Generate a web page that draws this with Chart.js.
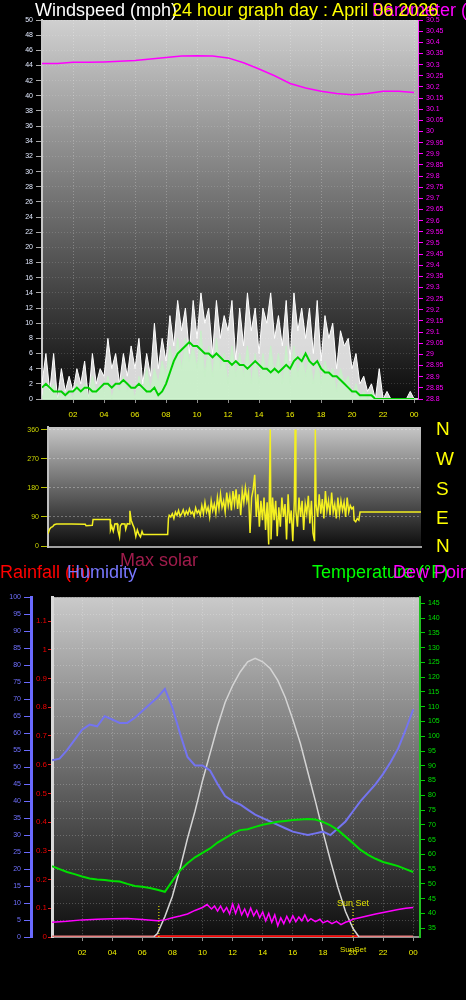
<!DOCTYPE html>
<html>
<head>
<meta charset="utf-8">
<script src="https://cdn.jsdelivr.net/npm/chart.js@4.4.1/dist/chart.umd.min.js"></script>
<style>
html, body { margin: 0; padding: 0; background: #000; }
body { width: 466px; height: 1000px; position: relative; overflow: hidden; font-family: "Liberation Sans", Arial, sans-serif; }
.box { position: absolute; left: 0; width: 466px; }
.lbl { position: absolute; white-space: nowrap; font-size: 18px; line-height: 18px; }
.dir { position: absolute; left: 436px; font-size: 19px; line-height: 19px; color: #ffff00; }
</style>
</head>
<body>
<div class="box" style="top:0;height:425px"><canvas id="windChart"></canvas></div>
<div class="box" style="top:420px;height:135px"><canvas id="dirChart"></canvas></div>
<div class="box" style="top:590px;height:370px"><canvas id="climateChart"></canvas></div>

<span class="lbl" style="left:35px;top:1px;color:#ffffff">Windspeed (mph)</span>
<span class="lbl" style="left:372px;top:1px;color:#ff00ff">Barometer (inHg)</span>
<span class="lbl" style="left:172px;top:1px;color:#ffff00">24 hour graph day : April 06 2026</span>

<span class="dir" style="top:419px">N</span>
<span class="dir" style="top:449px">W</span>
<span class="dir" style="top:479px">S</span>
<span class="dir" style="top:508px">E</span>
<span class="dir" style="top:536px">N</span>

<span class="lbl" style="left:120px;top:551px;color:#a01c4c">Max solar</span>
<span class="lbl" style="left:0px;top:563px;color:#ff0000">Rainfall (in)</span>
<span class="lbl" style="left:67px;top:563px;color:#7878ff">Humidity</span>
<span class="lbl" style="left:312px;top:563px;color:#00ff00">Temperature (°F)</span>
<span class="lbl" style="left:393px;top:563px;color:#ff00ff">Dew Point</span>

<script>
// axis ticks
const hourTicks = [2, 4, 6, 8, 10, 12, 14, 16, 18, 20, 22, 24];
const hourLabels = ['02', '04', '06', '08', '10', '12', '14', '16', '18', '20', '22', '00'];
const windTicks = [0, 2, 4, 6, 8, 10, 12, 14, 16, 18, 20, 22, 24, 26, 28, 30, 32, 34, 36, 38, 40, 42, 44, 46, 48, 50];
const baroTicks = [28.8, 28.85, 28.9, 28.95, 29, 29.05, 29.1, 29.15, 29.2, 29.25, 29.3, 29.35, 29.4, 29.45, 29.5, 29.55,
    29.6, 29.65, 29.7, 29.75, 29.8, 29.85, 29.9, 29.95, 30, 30.05, 30.1, 30.15, 30.2, 30.25, 30.3, 30.35, 30.4, 30.45, 30.5];
const dirTicks = [0, 90, 180, 270, 360];
const humTicks = [0, 5, 10, 15, 20, 25, 30, 35, 40, 45, 50, 55, 60, 65, 70, 75, 80, 85, 90, 95, 100];
const rainTicks = [0, 0.1, 0.2, 0.3, 0.4, 0.5, 0.6, 0.7, 0.8, 0.9, 1, 1.1];
const tempTicks = [35, 40, 45, 50, 55, 60, 65, 70, 75, 80, 85, 90, 95, 100, 105, 110, 115, 120, 125, 130, 135, 140, 145];

// wind, mph, every 15 minutes from 00:00 to 24:00
const windGust = [
    2, 6, 1, 6,   0, 4, 1, 3,   1, 4, 2, 5,   0, 6, 2, 4,   3, 8, 4, 6,   2, 6, 3, 7,
    4, 8, 2, 6,   3, 10, 4, 8,  5, 11, 7, 13, 9, 12, 6, 13, 8, 14, 10, 12, 6, 13, 8, 11,
    9, 13, 5, 12, 7, 14, 9, 12, 6, 12, 10, 14, 8, 11, 7, 13, 5, 14, 9, 12, 8, 12, 6, 13,
    5, 11, 8, 10, 4, 9, 7, 8,   4, 6, 2, 3,   1, 2, 0, 4,   0, 1, 0, 0,   0, 0, 0, 1,
    0
];
const windSpeed = [
    0, 2, 1, 2,   0, 1, 0, 1,   0, 2, 1, 2,   0, 3, 1, 2,   1, 3, 0, 2,   1, 3, 1, 2,
    0, 3, 1, 4,   1, 4, 2, 5,   3, 7, 4, 8,   4, 8, 5, 7,   4, 9, 3, 7,   3, 8, 4, 6,
    2, 7, 3, 6,   3, 7, 2, 6,   2, 6, 3, 7,   3, 6, 2, 7,   2, 7, 3, 6,   3, 6, 2, 5,
    2, 5, 3, 4,   1, 4, 2, 3,   0, 2, 0, 1,   0, 1, 0, 0,   0, 0, 0, 0,   0, 0, 0, 0,
    0
];
const windAvg = [
    1.5, 2, 1.5, 1,   1, 1, 0.5, 1,     1, 1.5, 1, 1.5,   1.5, 1, 1, 1.5,   2, 2, 1.5, 2,     2, 2.5, 2, 1.5,
    1.5, 2, 1.5, 1,   1, 1.5, 0.5, 1,   2, 3.5, 5, 6,     6.5, 7, 7.5, 7,   7, 6.5, 6, 6,     5.5, 6, 5.5, 5,
    5, 4.5, 5, 4.5,   4.5, 4, 4.5, 5,   4.5, 4, 4, 3.5,   4, 3.5, 4, 4.5,   4, 5, 5.5, 5,     6, 5, 4.5, 5,
    4, 3.5, 3.5, 3,   3, 2.5, 2, 1.5,   1, 1, 0.5, 0.5,   0.5, 0.5, 0, 0,   0, 0, 0, 0,       0, 0, 0, 0,
    0
];
// [hour, inHg]
const barometer = [[0, 30.305], [1, 30.305], [2, 30.31], [3, 30.31], [4, 30.312], [5, 30.315], [6, 30.318],
    [7, 30.325], [8, 30.332], [9, 30.338], [10, 30.34], [11, 30.338], [12, 30.33], [13, 30.308], [14, 30.28],
    [15, 30.25], [16, 30.215], [17, 30.195], [18, 30.18], [19, 30.17], [20, 30.165], [21, 30.17], [22, 30.18],
    [23, 30.18], [24, 30.175]];

// [hour, degrees]
const windDir = [
    [0, 38], [0.1, 52], [0.2, 58], [0.3, 60], [0.4, 66], [0.55, 68], [1.5, 68], [2.4, 67], [2.45, 63], [2.85, 64],
    [2.9, 82], [4.0, 82], [4.02, 50], [4.1, 62], [4.2, 46], [4.3, 68], [4.45, 69], [4.5, 48], [4.6, 28], [4.65, 62],
    [4.75, 69], [4.95, 68], [5.0, 52], [5.1, 69], [5.22, 68], [5.27, 109], [5.35, 80], [5.45, 67], [5.55, 55],
    [5.65, 30], [5.75, 50], [5.85, 36], [5.95, 28], [6.05, 45], [6.12, 36], [7.7, 36],
    [7.75, 85], [7.8, 95], [7.9, 90], [8.0, 100], [8.1, 85], [8.2, 105], [8.3, 95], [8.4, 110], [8.5, 92],
    [8.6, 100], [8.7, 112], [8.8, 95], [8.9, 108], [9.0, 98], [9.1, 115], [9.2, 100], [9.3, 106], [9.4, 92],
    [9.5, 118], [9.6, 102], [9.7, 110], [9.8, 95], [9.9, 125], [10.0, 100], [10.1, 135], [10.2, 105], [10.3, 120],
    [10.4, 90], [10.5, 140], [10.6, 110], [10.7, 130], [10.8, 100], [10.9, 150], [11.0, 115], [11.1, 160],
    [11.2, 120], [11.3, 140], [11.4, 105], [11.5, 165], [11.6, 125], [11.7, 155], [11.8, 110], [11.9, 170],
    [12.0, 130], [12.1, 175], [12.2, 115], [12.3, 160], [12.4, 95], [12.5, 170], [12.6, 135], [12.7, 180],
    [12.8, 140], [12.9, 165], [13.0, 40], [13.1, 150], [13.2, 175], [13.3, 220], [13.4, 90], [13.5, 160],
    [13.6, 60], [13.7, 140], [13.8, 80], [13.9, 150], [14.0, 50], [14.1, 135], [14.2, 5], [14.3, 360], [14.35, 20],
    [14.45, 150], [14.55, 80], [14.65, 140], [14.75, 30], [14.85, 120], [14.95, 60], [15.05, 150], [15.15, 90],
    [15.25, 130], [15.35, 20], [15.45, 160], [15.55, 70], [15.65, 110], [15.75, 15], [15.85, 140], [15.9, 360],
    [15.95, 110], [16.05, 60], [16.15, 150], [16.25, 90], [16.35, 140], [16.45, 50], [16.55, 130], [16.65, 100],
    [16.75, 155], [16.85, 70], [16.95, 140], [17.05, 40], [17.15, 15], [17.2, 360], [17.25, 130], [17.35, 90],
    [17.45, 160], [17.55, 100], [17.65, 145], [17.75, 85], [17.85, 170], [17.95, 110], [18.05, 140], [18.15, 95],
    [18.25, 165], [18.35, 105], [18.45, 130], [18.55, 85], [18.65, 150], [18.75, 100], [18.85, 140], [18.95, 110],
    [19.05, 135], [19.15, 90], [19.25, 150], [19.35, 105], [19.45, 125], [19.55, 115], [19.65, 120], [19.7, 80],
    [19.8, 75], [19.9, 85], [20.0, 80], [20.08, 105], [24, 105]
];

// every 30 minutes from 00:00 to 24:00
const humidity = [52, 52.5, 55, 58, 61, 62.5, 62, 65, 64, 63, 63, 64.5, 66.5, 68.5, 70.5, 73, 67.5, 60, 53, 50.5,
    50.5, 49, 45, 41.5, 40, 39, 37.5, 36, 35, 34, 33, 32, 31, 30.5, 30, 30.5, 31, 30, 32, 34, 37, 40, 42.5, 45, 48,
    51.5, 55.5, 61, 67];
const temperature = [56, 55, 54, 53.3, 52.5, 51.8, 51.5, 51.3, 51, 50.8, 50, 49.3, 49, 48.6, 48, 47.3, 51, 54.5, 57,
    59, 60.5, 62, 64, 65.5, 67, 68.2, 68.5, 69.3, 70, 70.5, 71, 71.3, 71.6, 71.8, 72, 71.8, 71, 69.8, 68.2, 66, 63.8,
    61.5, 59.8, 58.5, 57.4, 56.7, 56, 55, 54];
// [hour, °F]
const dewPoint = [[0, 37], [1, 37.3], [2, 37.8], [3, 38], [4, 38.2], [5, 38.3], [6, 37.9], [7, 37.5], [7.5, 37.8],
    [8, 38.5], [8.5, 39.1], [9, 39.8], [9.5, 41], [10, 42], [10.3, 43], [10.6, 41.5], [10.8, 42.5], [11, 40.8],
    [11.2, 42.5], [11.4, 40.5], [11.6, 42], [11.8, 39.8], [12, 43.2], [12.2, 40], [12.4, 42.8], [12.6, 39.5],
    [12.8, 41.5], [13, 39], [13.2, 41.8], [13.4, 39.2], [13.6, 41], [13.8, 38.5], [14, 40.5], [14.2, 37.5],
    [14.4, 40], [14.6, 37], [14.8, 39.5], [15, 35.8], [15.2, 38.5], [15.4, 36.5], [15.6, 39], [15.8, 37],
    [16, 39.2], [16.2, 37.2], [16.4, 38.8], [16.6, 37.5], [16.8, 39.5], [17, 37.3], [17.2, 38.2], [17.5, 37.2],
    [17.8, 38], [18, 36.8], [18.3, 37.5], [18.6, 36.5], [18.9, 37.3], [19.2, 36.2], [19.5, 37], [19.8, 37.5],
    [20, 38], [20.5, 38.6], [21, 39.2], [21.5, 39.8], [22, 40.3], [22.5, 40.8], [23, 41.3], [23.5, 41.7], [24, 42]];
// [hour, % of plot height]
const maxSolar = [[6.75, 0], [7, 1], [7.5, 6], [8, 12], [8.5, 20], [9, 29], [9.5, 37], [10, 46], [10.5, 54],
    [11, 62], [11.5, 69], [12, 74], [12.5, 78], [13, 81], [13.5, 82], [14, 81], [14.5, 79], [15, 75.5],
    [15.5, 70.5], [16, 64], [16.5, 57], [17, 48.5], [17.5, 40], [18, 31], [18.5, 22.5], [19, 14.5], [19.5, 7.5],
    [20, 2.5], [20.4, 0]];
const rainfall = [[0, 0], [24, 0]];
const rainDaylight = [[6.75, 0], [20.4, 0]];
const sunTimes = [7.1, 20.0];
const sunLine = [0, 9.5];

document.addEventListener('DOMContentLoaded', function () {

    const tickFont = { family: '"Liberation Sans", Arial, sans-serif', size: 7 };
    const xFont = { family: '"Liberation Sans", Arial, sans-serif', size: 8 };

    const quarter = (arr) => arr.map((v, i) => ({ x: i * 0.25, y: v }));
    const half = (arr) => arr.map((v, i) => ({ x: i * 0.5, y: v }));
    const pairs = (arr) => arr.map(([x, y]) => ({ x, y }));

    const fixedTicks = (values) => (scale) => { scale.ticks = values.map(v => ({ value: v })); };
    const fixedWidth = (w) => (scale) => { scale.width = w; };
    const fixedHeight = (h) => (scale) => { scale.height = h; };
    const hourLabel = (v) => hourLabels[hourTicks.indexOf(v)] || '';

    const plotBackground = {
        id: 'plotBackground',
        beforeDraw(chart, args, opts) {
            const { ctx, chartArea: a } = chart;
            const g = ctx.createLinearGradient(0, a.top, 0, a.bottom);
            g.addColorStop(0, opts.top);
            g.addColorStop(1, opts.bottom);
            ctx.save();
            ctx.fillStyle = g;
            ctx.fillRect(a.left, a.top, a.right - a.left, a.bottom - a.top);
            ctx.restore();
        }
    };

    const sunsetLabels = {
        id: 'sunsetLabels',
        afterDatasetsDraw(chart) {
            const { ctx, scales } = chart;
            const x = scales.x.getPixelForValue(sunTimes[1]);
            ctx.save();
            ctx.fillStyle = '#e0e000';
            ctx.font = '9px "Liberation Sans", Arial, sans-serif';
            ctx.textAlign = 'center';
            ctx.textBaseline = 'alphabetic';
            ctx.fillText('Sun Set', x, scales.yHum.getPixelForValue(sunLine[1]) + 1);
            ctx.textBaseline = 'middle';
            ctx.font = '8px "Liberation Sans", Arial, sans-serif';
            ctx.fillText('SunSet', x, scales.x.top + 13);
            ctx.restore();
        }
    };

    const baseOptions = {
        animation: false,
        responsive: true,
        maintainAspectRatio: false,
        elements: { point: { radius: 0 }, line: { tension: 0 } },
    };

    const createChart = (elementId, chartConfig) => {
        const ctx = document.getElementById(elementId);
        if (ctx) {
            new Chart(ctx, chartConfig);
        }
    };

    createChart('windChart', {
        type: 'line',
        data: {
            datasets: [
                { label: 'Barometer', data: pairs(barometer), yAxisID: 'yBaro', borderColor: '#ff00ff', borderWidth: 1.5, order: 1 },
                { label: 'Average', data: quarter(windAvg), yAxisID: 'y', borderColor: '#00d000', borderWidth: 2, order: 2 },
                { label: 'Speed', data: quarter(windSpeed), yAxisID: 'y', borderColor: '#c8f0c8', backgroundColor: 'rgba(200,242,200,0.85)', borderWidth: 1, fill: 'origin', order: 3 },
                { label: 'Gust', data: quarter(windGust), yAxisID: 'y', borderColor: '#ffffff', backgroundColor: 'rgba(250,250,250,0.85)', borderWidth: 1, fill: 'origin', order: 4 }
            ]
        },
        options: {
            ...baseOptions,
            layout: { padding: { top: 20, left: 0, right: 0, bottom: 0 } },
            plugins: {
                legend: { display: false },
                tooltip: { enabled: false },
                plotBackground: { top: '#d0d0d0', bottom: '#0c0c0c' }
            },
            scales: {
                x: {
                    type: 'linear', min: 0, max: 24.25,
                    afterBuildTicks: fixedTicks(hourTicks), afterFit: fixedHeight(26),
                    ticks: { color: '#f0f000', font: xFont, padding: 7, autoSkip: false, maxRotation: 0, callback: hourLabel },
                    grid: { color: 'rgba(255,255,255,0.25)', tickLength: 4, tickColor: '#909090' },
                    border: { color: '#b8dcb8', width: 2, dash: [1, 2] }
                },
                y: {
                    position: 'left', min: 0, max: 50,
                    afterBuildTicks: fixedTicks(windTicks), afterFit: fixedWidth(42),
                    ticks: { color: '#e2eaff', font: tickFont, padding: 3, autoSkip: false },
                    grid: { color: 'rgba(255,255,255,0.15)', tickLength: 6, tickColor: '#a8a8a8' },
                    border: { color: '#c8c8c8', width: 2, dash: [1, 2] }
                },
                yBaro: {
                    position: 'right', min: 28.8, max: 30.5,
                    afterBuildTicks: fixedTicks(baroTicks), afterFit: fixedWidth(48),
                    ticks: { color: '#ff00ff', font: tickFont, padding: 3, autoSkip: false, callback: v => String(+v.toFixed(2)) },
                    grid: { drawOnChartArea: false, tickLength: 5, tickColor: '#ff00ff' },
                    border: { color: '#ff40ff', width: 1 }
                }
            }
        },
        plugins: [plotBackground]
    });

    createChart('dirChart', {
        type: 'line',
        data: {
            datasets: [
                { label: 'Direction', data: pairs(windDir), borderColor: '#f4f020', borderWidth: 1.5 }
            ]
        },
        options: {
            ...baseOptions,
            layout: { padding: { top: 7, left: 0, right: 45, bottom: 8 } },
            plugins: {
                legend: { display: false },
                tooltip: { enabled: false },
                plotBackground: { top: '#c6c6c6', bottom: '#0c0c0c' }
            },
            scales: {
                x: {
                    type: 'linear', min: 0, max: 24,
                    afterFit: fixedHeight(0),
                    ticks: { display: false },
                    grid: { display: false },
                    border: { color: '#a0a0a0', width: 2 }
                },
                y: {
                    min: -3, max: 368,
                    afterBuildTicks: fixedTicks(dirTicks), afterFit: fixedWidth(48),
                    ticks: { color: '#ccd600', font: tickFont, padding: 2, autoSkip: false },
                    grid: { color: 'rgba(255,255,255,0.3)', tickLength: 7, tickColor: '#b8c000' },
                    border: { color: '#c0c0c0', width: 2, dash: [2, 2] }
                }
            }
        },
        plugins: [plotBackground]
    });

    createChart('climateChart', {
        type: 'line',
        data: {
            datasets: [
                { label: 'Dew Point', data: pairs(dewPoint), yAxisID: 'yTemp', borderColor: '#ff00ff', borderWidth: 1.5, order: 1 },
                { label: 'Temperature', data: half(temperature), yAxisID: 'yTemp', borderColor: '#00e000', borderWidth: 2, order: 2 },
                { label: 'Humidity', data: half(humidity), yAxisID: 'yHum', borderColor: '#7474f0', borderWidth: 2, order: 3 },
                { label: 'Max solar', data: pairs(maxSolar), yAxisID: 'ySolar', borderColor: '#d4d4d4', borderWidth: 1.5, order: 4 },
                {
                    label: 'Sun', yAxisID: 'yHum', borderColor: '#ffff00', borderWidth: 1, borderDash: [1, 2], order: 5,
                    data: [{ x: sunTimes[0], y: sunLine[0] }, { x: sunTimes[0], y: sunLine[1] }, { x: sunTimes[0], y: null },
                           { x: sunTimes[1], y: sunLine[0] }, { x: sunTimes[1], y: sunLine[1] }]
                },
                { label: 'Rain day', data: pairs(rainDaylight), yAxisID: 'yRain', borderColor: '#ff0000', borderWidth: 3, order: 6 },
                { label: 'Rainfall', data: pairs(rainfall), yAxisID: 'yRain', borderColor: '#e88080', borderWidth: 3, order: 7 }
            ]
        },
        options: {
            ...baseOptions,
            layout: { padding: { top: 7, left: 0, right: 0, bottom: 0 } },
            plugins: {
                legend: { display: false },
                tooltip: { enabled: false },
                plotBackground: { top: '#cacaca', bottom: '#0e0e0e' }
            },
            scales: {
                x: {
                    type: 'linear', min: 0, max: 24.45,
                    afterBuildTicks: fixedTicks(hourTicks), afterFit: fixedHeight(23),
                    ticks: { color: '#f0f000', font: xFont, padding: 7, autoSkip: false, maxRotation: 0, callback: hourLabel },
                    grid: { color: 'rgba(255,255,255,0.28)', tickLength: 4, tickColor: '#909090' },
                    border: { color: '#909090', width: 2, dash: [1, 2] }
                },
                yRain: {
                    position: 'left', weight: 0, min: 0, max: 1.183,
                    afterBuildTicks: fixedTicks(rainTicks), afterFit: fixedWidth(21),
                    ticks: { color: '#ee0000', font: xFont, padding: 1, autoSkip: false, callback: v => String(+v.toFixed(1)) },
                    grid: { drawOnChartArea: false, tickLength: 4, tickColor: '#dd2020' },
                    border: { color: '#d8d8d8', width: 3 }
                },
                yHum: {
                    position: 'left', weight: 1, min: 0, max: 100,
                    afterBuildTicks: fixedTicks(humTicks), afterFit: fixedWidth(31),
                    ticks: { color: '#7070ff', font: tickFont, padding: 3, autoSkip: false },
                    grid: { color: 'rgba(255,255,255,0.22)', tickLength: 7, tickColor: '#6a6aff' },
                    border: { color: '#6a6aff', width: 3, dash: [1, 2] }
                },
                yTemp: {
                    position: 'right', min: 32, max: 147.1,
                    afterBuildTicks: fixedTicks(tempTicks), afterFit: fixedWidth(46),
                    ticks: { color: '#00e000', font: tickFont, padding: 3, autoSkip: false },
                    grid: { drawOnChartArea: false, tickLength: 5, tickColor: '#00d000' },
                    border: { color: '#20c020', width: 2 }
                },
                ySolar: { display: false, min: 0, max: 100 }
            }
        },
        plugins: [plotBackground, sunsetLabels]
    });

});
</script>
</body>
</html>
